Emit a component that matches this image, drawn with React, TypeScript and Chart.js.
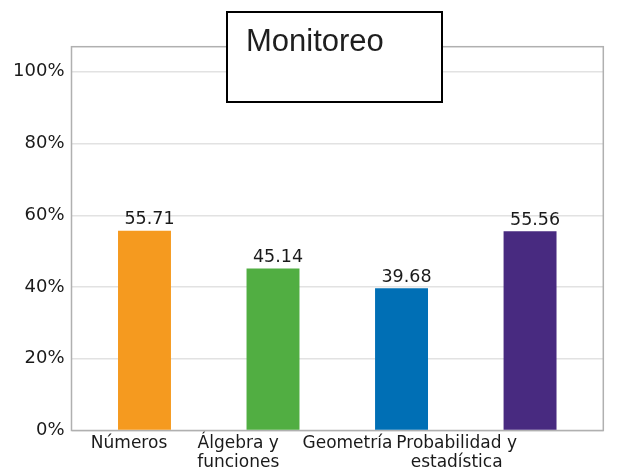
import React, { useEffect, useRef } from "react";
import { Chart, registerables } from "chart.js";

Chart.register(...registerables);

const categories: string[][] = [["Números"], ["Álgebra y", "funciones"], ["Geometría"], ["Probabilidad y", "estadística"]];
const values: number[] = [55.71, 45.14, 39.68, 55.56];
const valueLabels: string[] = ["55.71", "45.14", "39.68", "55.56"];
const barColors: string[] = ["#F59A1F", "#51AE42", "#006FB5", "#482A80"];
const yTicks: number[] = [0, 20, 40, 60, 80, 100];
const titleText = "Monitoreo";

const FONT = "'DejaVu Sans', sans-serif";

const overlayPlugin = {
  id: "overlay",
  beforeDatasetsDraw(chart: any) {
    const { ctx, chartArea } = chart;
    ctx.save();
    ctx.strokeStyle = "#b0b0b0";
    ctx.lineWidth = 1.5;
    ctx.strokeRect(chartArea.left, chartArea.top, chartArea.right - chartArea.left, chartArea.bottom - chartArea.top);
    ctx.restore();
  },
  afterDatasetsDraw(chart: any) {
    const { ctx } = chart;
    const meta = chart.getDatasetMeta(0);
    ctx.save();
    ctx.font = `17.5px ${FONT}`;
    ctx.fillStyle = "#1a1a1a";
    ctx.textAlign = "center";
    ctx.textBaseline = "alphabetic";
    meta.data.forEach((bar: any, i: number) => {
      ctx.fillText(valueLabels[i], bar.x + 5, bar.y - 6.5);
    });
    ctx.restore();
  },
  afterDraw(chart: any) {
    const { ctx } = chart;
    ctx.save();
    ctx.fillStyle = "#ffffff";
    ctx.fillRect(227, 12, 215, 90);
    ctx.strokeStyle = "#000";
    ctx.lineWidth = 2;
    ctx.strokeRect(227, 12, 215, 90);
    ctx.fillStyle = "#1e1e1e";
    ctx.font = "31px 'Liberation Sans', Arial, sans-serif";
    ctx.textAlign = "left";
    ctx.textBaseline = "alphabetic";
    ctx.fillText(titleText, 246, 51);
    ctx.restore();
  },
};

export default function App() {
  const ref = useRef<HTMLCanvasElement | null>(null);
  useEffect(() => {
    if (!ref.current) return;
    const chart = new Chart(ref.current, {
      type: "bar",
      data: {
        datasets: [
          {
            data: values.map((v, i) => ({ x: i, y: v })),
            backgroundColor: barColors,
            borderWidth: 0,
            categoryPercentage: 1,
            barPercentage: 0.824,
            xAxisID: "x",
            yAxisID: "y",
          },
        ],
      },
      options: {
        animation: false,
        responsive: false,
        maintainAspectRatio: false,
        layout: { padding: { top: 46.7, right: 16.7, left: 0, bottom: 0 } },
        plugins: { legend: { display: false }, tooltip: { enabled: false }, title: { display: false } },
        scales: {
          x: {
            type: "linear",
            display: false,
            offset: false,
            min: -0.568,
            max: 3.57,
          },
          x2: {
            type: "linear",
            position: "bottom",
            offset: false,
            min: -0.527,
            max: 4.343,
            grid: { display: false, drawTicks: false },
            border: { display: false },
            afterBuildTicks: (scale: any) => {
              scale.ticks = categories.map((_, i) => ({ value: i }));
            },
            afterFit: (scale: any) => {
              scale.height = 44.5;
            },
            ticks: {
              autoSkip: false,
              maxRotation: 0,
              minRotation: 0,
              padding: 3,
              color: "#1a1a1a",
              font: { family: FONT, size: 17, lineHeight: 1.15 },
              callback: (v: any) => categories[Math.round(Number(v))] ?? "",
            },
          },
          y: {
            type: "linear",
            min: 0,
            max: 107,
            border: { display: false },
            grid: { color: "#e2e2e2", lineWidth: 1.5, drawTicks: false },
            afterBuildTicks: (scale: any) => {
              scale.ticks = yTicks.map((v) => ({ value: v }));
            },
            afterFit: (scale: any) => {
              scale.width = 71.5;
            },
            ticks: {
              padding: 7,
              color: "#1a1a1a",
              font: { family: FONT, size: 18 },
              callback: (v: any) => `${v}%`,
            },
          },
        },
      },
      plugins: [overlayPlugin],
    });
    return () => chart.destroy();
  }, []);
  return (
    <div style={{ position: "fixed", left: 0, top: 0, width: 620, height: 475, background: "#fff" }}>
      <canvas ref={ref} width={620} height={475} style={{ width: 620, height: 475, display: "block" }} />
    </div>
  );
}
